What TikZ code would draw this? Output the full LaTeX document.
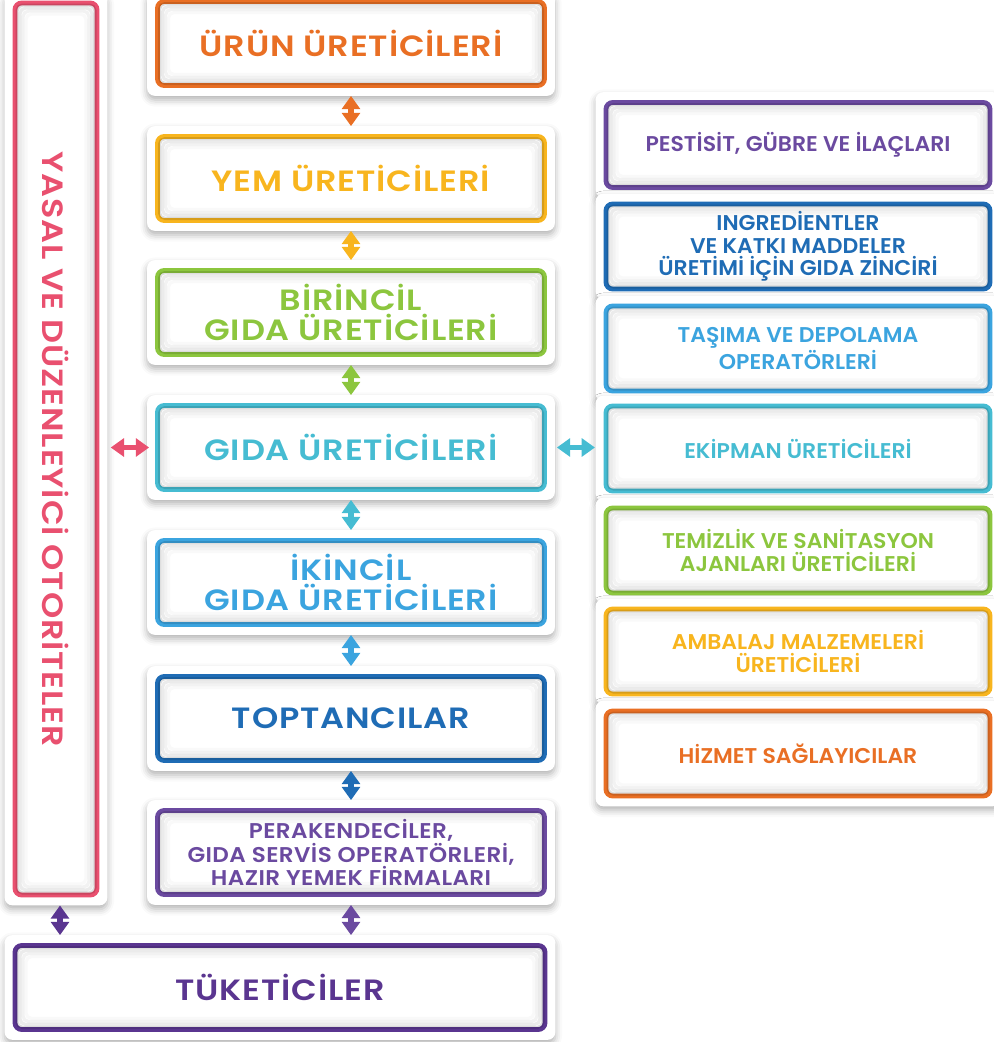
\documentclass[tikz,border=0pt]{standalone}
\usepackage{fontspec}
\IfFontExistsTF{Poppins SemiBold}{\def\popname{Poppins SemiBold}\def\wt{}}{\def\popname{Poppins}\def\wt{\bfseries}}
\setmainfont{\popname}[FakeStretch=1.03]
\newfontfamily\popwide{\popname}[FakeStretch=1.14,LetterSpace=3]
\newfontfamily\popmid{\popname}[FakeStretch=1.08,LetterSpace=2]
\usetikzlibrary{arrows.meta,shadows.blur,calc}
\pgfdeclarelayer{background}
\pgfsetlayers{background,main}
\definecolor{orangeC}{HTML}{E96F24}
\definecolor{yellowC}{HTML}{F8B51E}
\definecolor{greenC}{HTML}{8CC63E}
\definecolor{cyanC}{HTML}{46BCD2}
\definecolor{lblueC}{HTML}{3BA4DF}
\definecolor{dblueC}{HTML}{1F6CB5}
\definecolor{purpleC}{HTML}{6B4AA0}
\definecolor{dpurpleC}{HTML}{5A3590}
\definecolor{pinkC}{HTML}{E9506F}
\newcommand\bigf{\popwide\wt\fontsize{22}{22.5}\selectfont}
\newcommand\midf{\popmid\wt\fontsize{16}{17.5}\selectfont}
\newcommand\smf{\wt\fontsize{16}{17}\selectfont}
\newcommand\deco[1]{%
  \begin{pgfonlayer}{background}
    \fill[white, rounded corners=6pt, blur shadow={shadow xshift=0pt, shadow yshift=-3pt, shadow blur radius=5pt, shadow opacity=30}]
      ($(#1.north west)+(-8,-8)$) rectangle ($(#1.south east)+(8,8)$);
  \end{pgfonlayer}
  \foreach \i/\o in {1/0.13,2/0.08,3/0.05,4/0.025}{%
    \draw[black, opacity=\o, line width=2.4pt, rounded corners=4pt]
      ($(#1.north west)+(1.5+\i*3,1.5+\i*3)$) rectangle ($(#1.south east)-(1.5+\i*3,1.5+\i*3)$);}
}
\begin{document}
\begin{tikzpicture}[x=0.75pt,y=-0.75pt,
  box/.style={draw=#1, text=#1, line width=3.6pt, rounded corners=5pt, fill=white, align=center, inner sep=0pt},
  mainbox/.style={minimum width=387*0.75pt, minimum height=84*0.75pt, font=\bigf},
  sidebox/.style={minimum width=384*0.75pt, minimum height=85*0.75pt, font=\smf},
  dar/.style={line width=3.8pt, draw=#1, {Triangle[width=13.5pt,length=10pt]}-{Triangle[width=13.5pt,length=10pt]}, shorten <=6pt, shorten >=6pt}
]
\useasboundingbox (0,0) rectangle (994,1042);
% left authority box
\node[box=pinkC, minimum width=82*0.75pt, minimum height=892*0.75pt] (yasal) at (56,449) {};
\node[text=pinkC, font=\bigf] (yasaltxt) at (yasal.center) {\rotatebox{-90}{YASAL VE DÜZENLEYİCİ OTORİTELER}};
% main column
\node[box=orangeC, mainbox] (urun) at (351,43.5) {ÜRÜN ÜRETİCİLERİ};
\node[box=yellowC, mainbox] (yem) at (351,178.5) {YEM ÜRETİCİLERİ};
\node[box=greenC, mainbox] (bir) at (351,312.5) {BİRİNCİL\\GIDA ÜRETİCİLERİ};
\node[box=cyanC, mainbox] (gida) at (351,447.5) {GIDA ÜRETİCİLERİ};
\node[box=lblueC, mainbox] (iki) at (351,582.5) {İKİNCİL\\GIDA ÜRETİCİLERİ};
\node[box=dblueC, mainbox] (top) at (351,718.5) {TOPTANCILAR};
\node[box=purpleC, mainbox, font=\midf] (per) at (351,852.5) {PERAKENDECİLER,\\GIDA SERVİS OPERATÖRLERİ,\\HAZIR YEMEK FİRMALARI};
\node[box=dpurpleC, mainbox, minimum width=530*0.75pt] (tuk) at (280,987.5) {TÜKETİCİLER};
% side column
\node[box=purpleC, sidebox] (pes) at (798,145) {PESTİSİT, GÜBRE VE İLAÇLARI};
\node[box=dblueC, sidebox] (ing) at (798,246.5) {INGREDİENTLER\\VE KATKI MADDELER\\ÜRETİMİ İÇİN GIDA ZİNCİRİ};
\node[box=lblueC, sidebox] (tas) at (798,348.5) {TAŞIMA VE DEPOLAMA\\OPERATÖRLERİ};
\node[box=cyanC, sidebox] (eki) at (798,448.5) {EKİPMAN ÜRETİCİLERİ};
\node[box=greenC, sidebox] (tem) at (798,550.5) {TEMİZLİK VE SANİTASYON\\AJANLARI ÜRETİCİLERİ};
\node[box=yellowC, sidebox] (amb) at (798,651.5) {AMBALAJ MALZEMELERİ\\ÜRETİCİLERİ};
\node[box=orangeC, sidebox] (hiz) at (798,753.5) {HİZMET SAĞLAYICILAR};
% decorations
\foreach \n in {yasal,urun,yem,bir,gida,iki,top,per,tuk,pes,ing,tas,eki,tem,amb,hiz}{\deco{\n}}
% arrows
\draw[dar=orangeC] (urun.south) -- (yem.north);
\draw[dar=yellowC] (yem.south) -- (bir.north);
\draw[dar=greenC] (bir.south) -- (gida.north);
\draw[dar=cyanC] (gida.south) -- (iki.north);
\draw[dar=lblueC] (iki.south) -- (top.north);
\draw[dar=dblueC] (top.south) -- (per.north);
\draw[dar=purpleC] (per.south) -- (per.south |- tuk.north);
\draw[dar=dpurpleC] ([xshift=3]yasal.south) -- ([xshift=3]yasal.south |- tuk.north);
\draw[dar=pinkC, shorten <=8.5pt, shorten >=4.5pt] (yasal.east |- gida.west) -- (gida.west);
\draw[dar=cyanC, shorten <=7.5pt, shorten >=6.5pt] (gida.east) -- (gida.east -| eki.west);
\end{tikzpicture}
\end{document}
